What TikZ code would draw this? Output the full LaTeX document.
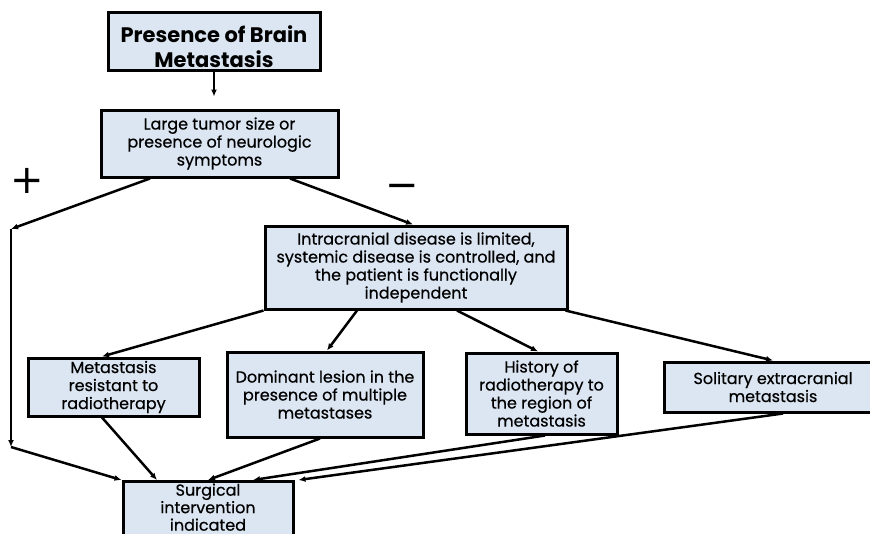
\documentclass[tikz,border=0pt]{standalone}
\usepackage{fontspec}
\setmainfont{Poppins}
\newfontfamily\boxfont{Poppins}[FakeBold=0.5]
\newfontfamily\signfont{DejaVu Sans}
\usepackage{tikz}
\usetikzlibrary{arrows.meta, positioning}
\definecolor{boxblue}{HTML}{DCE6F2}

\begin{document}
\begin{tikzpicture}[
        x=1pt, y=-1pt,
        box/.style = {draw, line width=3pt, fill=boxblue, align=center, inner sep=2pt,
                      font=\boxfont\fontsize{16}{18}\selectfont},
        title/.style = {font=\fontsize{21}{25}\selectfont\bfseries, text height=52pt},
        arrow/.style = {-{Latex[length=7pt, width=6pt]}, line width=2.5pt},
        sign/.style = {font=\signfont\fontsize{40}{40}\selectfont, inner sep=0pt}
        ]
        \useasboundingbox (0,0) rectangle (870,533);

        % Boxes
        \node[box, title, minimum width=212pt, minimum height=58pt] (brain) at (214,41.5) {Presence of Brain\\Metastasis};
        \node[box, minimum width=237pt, minimum height=67pt] (tumor) at (219.5,143.5) {Large tumor size or\\presence of neurologic\\symptoms};
        \node[box, minimum width=302pt, minimum height=83pt] (intra) at (416,267.5) {Intracranial disease is limited,\\systemic disease is controlled, and\\the patient is functionally\\independent};
        \node[box, minimum width=171pt, minimum height=58pt] (resist) at (113.5,387) {Metastasis\\resistant to\\radiotherapy};
        \node[box, minimum width=196pt, minimum height=85pt] (lesion) at (325,394.5) {Dominant lesion in the\\presence of multiple\\metastases};
        \node[box, minimum width=151pt, minimum height=81pt] (history) at (541.5,393.5) {History of\\radiotherapy to\\the region of\\metastasis};
        \node[box, minimum width=218pt, minimum height=50pt] (solitary) at (773,387) {Solitary extracranial\\metastasis};
        \node[box, minimum width=170pt, inner ysep=2pt, text depth=18pt, anchor=north,
              font=\boxfont\fontsize{16}{17.5}\selectfont] (surgery) at (208,480) {Surgical\\intervention\\indicated};

        % Signs
        \node[sign] (plus) at (27,181) {+};
        \node[sign] (minus) at (402,191) {−};

        % Corners of the left path
        \coordinate (bendtop) at (11,229);
        \coordinate (bendlow) at (11,447);

        % Arrows
        \draw[arrow, shorten >=12pt] (brain) -- (brain.south |- tumor.north);
        \draw[arrow] ([xshift=-69.5pt]tumor.south) -- (bendtop);
        \draw[arrow] (bendtop) -- (bendlow);
        \draw[arrow] (bendlow) -- (surgery.north west);
        \draw[arrow] ([xshift=70.5pt]tumor.south) -- ([xshift=-3pt]intra.north);
        \draw[arrow] (intra.south west) -- ([xshift=-11.5pt]resist.north);
        \draw[arrow] ([xshift=-59pt]intra.south) -- ([xshift=2pt]lesion.north);
        \draw[arrow] ([xshift=41pt]intra.south) -- ([xshift=-3.5pt]history.north);
        \draw[arrow] ([xshift=-3pt]intra.south east) -- (solitary.north);
        \draw[arrow] ([xshift=-11.5pt]resist.south) -- ([xshift=-51pt]surgery.north);
        \draw[arrow] ([xshift=-5pt]lesion.south) -- (surgery.north);
        \draw[arrow] ([xshift=3.5pt]history.south) -- ([xshift=45pt]surgery.north);
        \draw[arrow] ([xshift=10pt]solitary.south) -- ([xshift=4pt]surgery.north east);

\end{tikzpicture}
\end{document}
